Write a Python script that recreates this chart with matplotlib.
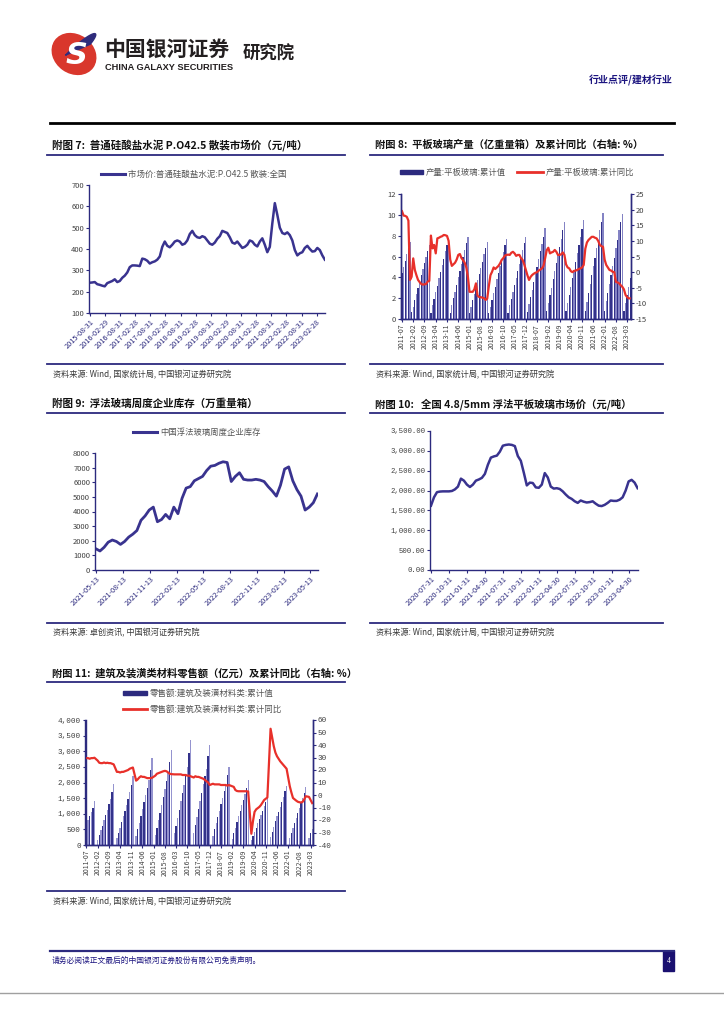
import numpy as np
import pandas as pd
import matplotlib
matplotlib.use('Agg')
import matplotlib.pyplot as plt
from matplotlib.patches import Rectangle, Ellipse, Polygon
from matplotlib.ticker import FuncFormatter

plt.rcParams['font.family'] = ['Noto Sans CJK SC', 'DejaVu Sans']
plt.rcParams['axes.unicode_minus'] = False

# ---- data: chart 7, cement price (monthly 2015-08 .. 2023-06)
cement_price = [
    242, 243, 245, 235, 232,
    228, 225, 240, 245, 250, 258, 245, 250, 265, 275, 290, 315,
    323, 323, 322, 320, 355, 352, 345, 332, 338, 342, 350, 365,
    410, 435, 415, 408, 420, 435, 440, 435, 420, 425, 440, 470,
    485, 465, 455, 452, 460, 455, 440, 425, 420, 430, 448, 460,
    485, 480, 475, 455, 430, 425, 435, 420, 405, 410, 420, 440,
    435, 420, 412, 435, 450, 420, 385, 410, 520, 615, 560, 500,
    475, 470, 478, 465, 440, 395, 370, 380, 385, 405, 415, 400,
    388, 390, 405, 395, 370, 350,
]
cement_ticks = ['2015-08-31', '2016-02-29', '2016-08-31', '2017-02-28', '2017-08-31',
                '2018-02-28', '2018-08-31', '2019-02-28', '2019-08-31', '2020-02-29',
                '2020-08-31', '2021-02-28', '2021-08-31', '2022-02-28', '2022-08-31',
                '2023-02-28']

# ---- data: chart 8, flat glass output (cumulative, 100m cases) and cumulative yoy (%)
glass_start = '2011-07'
glass_output = [
    4.4, 5.0, 5.6, 6.2, 6.85, 7.4,
    0.7, 1.2, 1.8, 2.4, 3.0, 3.6, 4.2, 4.8, 5.4, 6.0, 6.5, 7.1,
    0.6, 1.3, 1.9, 2.6, 3.2, 3.9, 4.5, 5.2, 5.8, 6.5, 7.1, 7.8,
    0.6, 1.3, 2.0, 2.6, 3.3, 4.0, 4.6, 5.3, 6.0, 6.6, 7.3, 7.9,
    0.6, 1.2, 1.8, 2.4, 3.1, 3.7, 4.3, 4.9, 5.5, 6.2, 6.8, 7.4,
    0.6, 1.2, 1.8, 2.5, 3.1, 3.8, 4.4, 5.1, 5.8, 6.4, 7.1, 7.7,
    0.6, 1.3, 1.9, 2.6, 3.3, 3.9, 4.6, 5.3, 5.9, 6.6, 7.3, 7.9,
    0.7, 1.4, 2.1, 2.8, 3.6, 4.3, 5.0, 5.8, 6.5, 7.2, 7.9, 8.7,
    0.8, 1.5, 2.3, 3.0, 3.8, 4.6, 5.4, 6.2, 6.9, 7.7, 8.5, 9.3,
    0.8, 1.5, 2.3, 3.1, 3.9, 4.7, 5.5, 6.3, 7.1, 7.9, 8.6, 9.5,
    0.8, 1.6, 2.5, 3.4, 4.2, 5.1, 5.9, 6.8, 7.6, 8.5, 9.3, 10.2,
    0.8, 1.7, 2.5, 3.4, 4.2, 5.1, 5.9, 6.8, 7.6, 8.5, 9.3, 10.1,
    0.8, 1.5, 2.3, 3.1, 3.9,
]
glass_yoy = [
    19.5, 18.1, 18.0, 17.7, 16.5, -2.5,
    -1.5, 4.4, 0.7, -1.0, -2.5, -3.2, -3.8, -4.0, -3.9, -3.8, -3.0, -2.8,
    11.7, 7.6, 8.7, 6.0, 10.8, 11.0, 11.3, 11.5, 11.9, 11.8, 11.6, 10.0,
    4.0, 2.0, 2.5, 3.0, 4.0, 5.5, 5.8, 4.5, 3.8, 3.0, 1.5, -1.5,
    -6.3, -6.3, -6.3, -5.5, -3.6, -7.5, -8.0, -8.0, -8.2, -8.3, -8.9, -8.5,
    -4.5, -1.0, 0.1, 1.5, 1.0, 1.5, 2.0, 2.8, 3.9, 4.5, 5.3, 5.5,
    5.6, 5.5, 6.2, 6.5, 6.0, 5.2, 5.5, 5.5, 4.5, 3.9, 2.5, 0.7,
    -1.0, -2.5, -1.5, -0.9, -0.5, -0.2, 0.0, 0.5, 0.8, 1.2, 2.0, 4.4,
    7.0, 7.8, 6.0, 6.3, 6.5, 7.1, 6.5, 5.5, 5.5, 5.7, 6.3, 5.5,
    2.5, 1.5, 1.2, 0.3, 0.0, 0.4, 0.5, 0.7, 1.0, 1.2, 1.5, 2.3,
    7.5, 9.5, 10.3, 10.8, 11.3, 11.3, 11.0, 10.8, 10.0, 8.7, 8.3, 8.1,
    4.0, 2.3, 1.5, 0.7, 0.5, 0.1, 0.0, -3.1, -3.3, -3.6, -4.2, -4.7,
    -5.5, -7.3, -8.0, -8.4, -8.4,
]

# ---- data: chart 9, float glass weekly inventory (biweekly samples)
stock_start = '2021-05-13'
float_stock = [
    1450, 1300, 1550, 1900, 2050, 1950, 1750, 1950, 2250, 2450, 2700, 3400, 3700, 4100, 4300, 3300, 3450,
    3800, 3500, 4300, 3850, 4900, 5600, 5700, 6100, 6250, 6400, 6800, 7100, 7150, 7300, 7400, 7350,
    6050, 6400, 6650, 6200, 6150, 6150, 6200, 6150, 6050, 5700,
    5400, 5050, 5800, 6900, 7050, 6100, 5500, 5050, 4100, 4300, 4600, 5200,
]
stock_ticks = ['2021-05-13', '2021-08-13', '2021-11-13', '2022-02-13', '2022-05-13',
               '2022-08-13', '2022-11-13', '2023-02-13', '2023-05-13']

# ---- data: chart 10, 4.8/5mm float glass price (semi-monthly samples)
price_range = ('2020-07-31', '2023-06-12')
glass_price = [
    1620, 1830, 1960, 1975, 1980, 1980, 1980, 1990, 2030, 2100,
    2300, 2250, 2150, 2090, 2150, 2250, 2280, 2320, 2420, 2650,
    2830, 2860, 2880, 2980, 3130, 3150, 3160, 3150, 3120, 2870,
    2750, 2450, 2130, 2200, 2190, 2080, 2070, 2150, 2440, 2330,
    2100, 2050, 2060, 2040, 1980, 1900, 1830, 1790, 1730, 1690,
    1750, 1720, 1700, 1710, 1730, 1670, 1620, 1610, 1640, 1690,
    1750, 1740, 1740, 1770, 1830, 2000, 2230, 2270, 2200, 2060,
]
price_ticks = ['2020-07-31', '2020-10-31', '2021-01-31', '2021-04-30', '2021-07-31',
               '2021-10-31', '2022-01-31', '2022-04-30', '2022-07-31', '2022-10-31',
               '2023-01-31', '2023-04-30']

# ---- data: chart 11, building & decoration materials retail sales (cumulative) and yoy
nan = np.nan
retail_sales = [
    650, 790, 920, 1050, 1200, 1400,
    nan, 170, 320, 470, 620, 790, 950, 1110, 1300, 1480, 1700, 1960,
    nan, 230, 390, 560, 740, 930, 1100, 1280, 1480, 1690, 1930, 2200,
    nan, 300, 500, 710, 930, 1160, 1380, 1600, 1840, 2080, 2400, 2800,
    nan, 330, 560, 800, 1040, 1290, 1530, 1780, 2040, 2300, 2650, 3050,
    nan, 370, 610, 870, 1130, 1400, 1660, 1930, 2210, 2500, 2950, 3370,
    nan, 400, 650, 900, 1150, 1420, 1680, 1950, 2200, 2430, 2850, 3200,
    nan, 300, 500, 700, 900, 1100, 1300, 1500, 1720, 1950, 2250, 2500,
    nan, 180, 380, 560, 740, 920, 1100, 1270, 1450, 1640, 1840, 2070,
    nan, 160, 280, 410, 560, 700, 830, 960, 1100, 1240, 1380, 1550,
    nan, 250, 430, 590, 760, 920, 1070, 1220, 1380, 1540, 1720, 1900,
    nan, 240, 400, 550, 720, 880, 1030, 1180, 1340, 1500, 1670, 1850,
    nan, 230, 390, 520,
]
retail_yoy = [
    29.5, 29.5, 29.0, 29.5, 29.5, 29.8,
    nan, 27.5, 25.8, 25.5, 25.5, 26.0, 25.5, 25.8, 25.5, 25.5, 25.0, 24.5,
    nan, 18.5, 18.5, 18.0, 18.5, 18.5, 19.0, 19.5, 20.0, 21.0, 21.5, 22.0,
    nan, 11.5, 12.5, 14.0, 15.0, 14.5, 14.5, 14.0, 13.5, 13.5, 13.5, 13.8,
    nan, 15.5, 17.0, 17.5, 18.0, 18.5, 19.0, 19.3, 19.0, 18.0, 17.0, 16.7,
    nan, 16.5, 16.5, 16.5, 16.5, 16.5, 16.0, 16.0, 16.0, 15.5, 15.5, 15.0,
    nan, 14.0, 15.0, 14.5, 14.5, 14.0, 13.5, 13.0, 12.0, 11.0, 10.0, 8.0,
    nan, 9.0, 8.5, 8.5, 8.5, 8.5, 8.0, 8.0, 8.0, 8.0, 7.5, 8.0,
    nan, 7.0, 6.5, 4.0, 3.2, 3.0, 3.0, 3.0, 3.0, 3.0, 3.0, 2.8,
    nan, -31.0, -21.0, -13.5, -11.5, -10.5, -9.5, -8.0, -6.0, -4.0, -3.0, -2.0,
    nan, 53.0, 46.0, 39.0, 34.0, 31.0, 29.0, 27.0, 25.5, 24.0, 22.5, 21.0,
    nan, 7.0, 2.0, -2.4, -3.5, -4.5, -5.4, -5.8, -6.0, -5.5, -3.5, -1.0,
    nan, -1.5, -4.0, -6.5,
]

# ---- page setup
W, H = 724, 1024
NAVY = '#2c2a7e'
LINE = '#39338f'
RED = '#e8302a'
GRAY = '#404040'
LEG = '#555555'
MONO = ['Liberation Mono', 'DejaVu Sans Mono']

fig = plt.figure(figsize=(W / 100, H / 100), dpi=100)
ov = fig.add_axes([0, 0, 1, 1])
ov.set_xlim(0, W)
ov.set_ylim(H, 0)
ov.axis('off')


def px_axes(x0, y0, x1, y1):
    ax = fig.add_axes([x0 / W, 1 - y1 / H, (x1 - x0) / W, (y1 - y0) / H])
    ax.set_facecolor('none')
    return ax


def style(ax, right=False, xcolor=NAVY):
    ax.spines['top'].set_visible(False)
    if not right:
        ax.spines['right'].set_visible(False)
    for s in ax.spines.values():
        s.set_color(NAVY)
        s.set_linewidth(1.0)
    ax.tick_params(axis='both', colors=NAVY, length=2, width=0.8, direction='out')
    ax.tick_params(axis='y', labelcolor=GRAY, labelsize=5.5, pad=1.5)
    ax.tick_params(axis='x', labelcolor=xcolor, labelsize=5.3, pad=1.5)


def frame(x0, x1, y_title, y_rule, y_bottom, y_src, title, src, tsize=7.4):
    ov.text(x0 + 5, y_title, title, fontsize=tsize, weight='bold', va='center', color='#111111')
    ov.plot([x0, x1], [y_rule, y_rule], color=NAVY, lw=1.3)
    ov.plot([x0, x1], [y_bottom, y_bottom], color=NAVY, lw=1.3)
    ov.text(x0 + 6, y_src, src, fontsize=5.9, va='center', color='#3a3a3a')


# ---- header
ov.add_patch(Ellipse((74, 54), 46, 38, angle=35, color='#d9372c'))
t = np.linspace(-0.2, 2.5, 60)
cx, cy, a, b, th = 74, 54, 23, 19, np.deg2rad(-35)
ex = cx + a * np.cos(t) * np.cos(th) - b * np.sin(t) * np.sin(th)
ey = cy - (a * np.cos(t) * np.sin(-th) + b * np.sin(t) * np.cos(th))
ov.add_patch(Polygon(np.column_stack([ex, ey]), closed=True, color='#2f2c7c'))
ov.text(77, 55, 'S', fontsize=22, weight='bold', style='italic', color='white',
        ha='center', va='center', family='DejaVu Sans')
ov.text(104, 49, '中国银河证券', fontsize=15, weight='bold', va='center', color='#231f20')
ov.text(105, 67, 'CHINA GALAXY SECURITIES', fontsize=6.7, weight='bold', va='center',
        color='#231f20', family='Liberation Sans')
ov.text(243, 54, '研究院', fontsize=12.5, weight='bold', va='center', color='#231f20')
ov.text(673, 80, '行业点评/建材行业', fontsize=7.2, weight='bold', va='center', ha='right', color='#1c1580')
ov.plot([50, 674], [123, 123], color='black', lw=2)

# ---- footer
ov.plot([50, 674], [951, 951], color=NAVY, lw=1.6)
ov.text(52, 961, '请务必阅读正文最后的中国银河证券股份有限公司免责声明。', fontsize=5.6, va='center', color='#1c1580')
ov.add_patch(Rectangle((663, 951), 11, 20, color='#1a1070'))
ov.text(668.5, 961, '4', fontsize=5.5, color='white', ha='center', va='center', family='Liberation Serif')
ov.plot([0, W], [993, 993], color='#a0a0a0', lw=1)

src_main = '资料来源: Wind, 国家统计局, 中国银河证券研究院'

# ---- chart 7
frame(47, 345, 145, 155, 364, 375, '附图 7:  普通硅酸盐水泥 P.O42.5 散装市场价（元/吨）', src_main, 7.6)
ov.plot([101, 125], [174, 174], color=LINE, lw=2.2)
ov.text(128, 174, '市场价:普通硅酸盐水泥:P.O42.5 散装:全国', fontsize=6.1, va='center', color=LEG)
ax7 = px_axes(89, 185, 325, 313)
d7 = pd.date_range('2015-08-31', '2023-06-08', periods=len(cement_price))
ax7.plot(d7, cement_price, color=LINE, lw=1.8)
ax7.set_ylim(100, 700)
ax7.set_yticks(range(100, 701, 100))
ax7.set_xlim(pd.Timestamp('2015-08-22'), pd.Timestamp('2023-06-10'))
ax7.set_xticks(pd.to_datetime(cement_ticks))
ax7.set_xticklabels(cement_ticks, rotation=45, ha='right', rotation_mode='anchor')
style(ax7)

# ---- chart 8
frame(370, 663, 145, 155, 364, 375, '附图 8:  平板玻璃产量（亿重量箱）及累计同比（右轴: %）', src_main, 7.4)
ov.add_patch(Rectangle((400, 170), 23, 4, color=NAVY))
ov.text(426, 172, '产量:平板玻璃:累计值', fontsize=6.0, va='center', color=LEG)
ov.plot([517, 543], [172, 172], color=RED, lw=2)
ov.text(546, 172, '产量:平板玻璃:累计同比', fontsize=6.0, va='center', color=LEG)
ax8 = px_axes(401, 194, 631, 319)
x8 = np.arange(len(glass_output))
m8 = pd.period_range(glass_start, periods=len(glass_output), freq='M').strftime('%Y-%m')
cols8 = ['#33328a' if i % 2 == 0 else '#8483c4' for i in x8]
ax8.bar(x8, glass_output, width=0.8, color=cols8, linewidth=0)
ax8.set_ylim(0, 12)
ax8.set_yticks(range(0, 13, 2))
ax8.set_xlim(-0.6, len(glass_output) - 0.6)
ax8.set_xticks(x8[::7])
ax8.set_xticklabels(m8[::7], rotation=90)
ax8r = ax8.twinx()
ax8r.set_facecolor('none')
ax8r.plot(x8, glass_yoy, color=RED, lw=1.6)
ax8r.set_ylim(-15, 25)
ax8r.set_yticks(range(-15, 26, 5))
style(ax8, right=True, xcolor=GRAY)
style(ax8r, right=True, xcolor=GRAY)
ax8.tick_params(axis='x', labelsize=5.0)

# ---- chart 9
frame(47, 345, 404, 413, 623, 633, '附图 9:  浮法玻璃周度企业库存（万重量箱）',
      '资料来源: 卓创资讯, 中国银河证券研究院', 7.6)
ov.plot([133, 157], [432, 432], color=LINE, lw=2.2)
ov.text(160, 432, '中国浮法玻璃周度企业库存', fontsize=6.0, va='center', color=LEG)
ax9 = px_axes(95, 453, 318, 570)
d9 = pd.date_range(stock_start, periods=len(float_stock), freq='14D')
ax9.plot(d9, float_stock, color=LINE, lw=2.0)
ax9.set_ylim(0, 8000)
ax9.set_yticks(range(0, 8001, 1000))
ax9.set_xlim(pd.Timestamp('2021-05-10'), pd.Timestamp('2023-06-10'))
ax9.set_xticks(pd.to_datetime(stock_ticks))
ax9.set_xticklabels(stock_ticks, rotation=45, ha='right', rotation_mode='anchor')
style(ax9)

# ---- chart 10
frame(370, 663, 404, 413, 623, 633, '附图 10:   全国 4.8/5mm 浮法平板玻璃市场价（元/吨）', src_main, 7.5)
ax10 = px_axes(430, 431, 638, 570)
d10 = pd.date_range(price_range[0], price_range[1], periods=len(glass_price))
ax10.plot(d10, glass_price, color=LINE, lw=1.8)
ax10.set_ylim(0, 3500)
ax10.set_yticks(range(0, 3501, 500))
ax10.yaxis.set_major_formatter(FuncFormatter(lambda v, p: f'{v:,.2f}'))
ax10.set_xlim(pd.Timestamp('2020-07-26'), pd.Timestamp('2023-06-14'))
ax10.set_xticks(pd.to_datetime(price_ticks))
ax10.set_xticklabels(price_ticks, rotation=45, ha='right', rotation_mode='anchor')
style(ax10)
for lab in ax10.get_yticklabels():
    lab.set_family(MONO)
    lab.set_fontsize(5.2)

# ---- chart 11
frame(47, 345, 673, 682, 891, 902, '附图 11:  建筑及装潢类材料零售额（亿元）及累计同比（右轴: %）', src_main, 7.4)
ov.add_patch(Rectangle((123, 691), 24, 4, color=NAVY))
ov.text(150, 693, '零售额:建筑及装潢材料类:累计值', fontsize=6.1, va='center', color=LEG)
ov.plot([123, 147], [709, 709], color=RED, lw=2)
ov.text(150, 709, '零售额:建筑及装潢材料类:累计同比', fontsize=6.1, va='center', color=LEG)
ax11 = px_axes(85.5, 720, 313, 845)
x11 = np.arange(len(retail_sales))
m11 = pd.period_range(glass_start, periods=len(retail_sales), freq='M').strftime('%Y-%m')
cols11 = ['#33328a' if i % 2 == 0 else '#9594cf' for i in x11]
ax11.bar(x11, np.nan_to_num(retail_sales), width=0.8, color=cols11, linewidth=0)
ax11.set_ylim(0, 4000)
ax11.set_yticks(range(0, 4001, 500))
ax11.yaxis.set_major_formatter(FuncFormatter(lambda v, p: f'{v:,.0f}'))
ax11.set_xlim(-0.6, len(retail_sales) - 0.5)
ax11.set_xticks(x11[::7])
ax11.set_xticklabels(m11[::7], rotation=90)
ax11r = ax11.twinx()
ax11r.set_facecolor('none')
yoy = np.array(retail_yoy)
ok = ~np.isnan(yoy)
ax11r.plot(x11[ok], yoy[ok], color=RED, lw=1.6)
ax11r.set_ylim(-40, 60)
ax11r.set_yticks(range(-40, 61, 10))
style(ax11, right=True, xcolor=GRAY)
style(ax11r, right=True, xcolor=GRAY)
ax11.tick_params(axis='x', labelsize=5.0)
for lab in ax11.get_yticklabels() + ax11r.get_yticklabels():
    lab.set_family(MONO)
    lab.set_fontsize(5.5)

fig.savefig('out.png', dpi=100)
